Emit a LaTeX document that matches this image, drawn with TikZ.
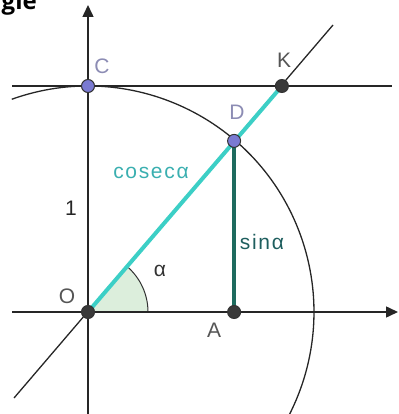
\documentclass[tikz,border=0pt]{standalone}
\usepackage{fontspec}
\setmainfont{Liberation Sans}[LetterSpace=8]
\newfontfamily\titlefont{Open Sans}
\usetikzlibrary{arrows.meta}
\definecolor{cosc}{HTML}{3CCFC6}
\definecolor{cosctext}{HTML}{3AAFB0}
\definecolor{sinc}{HTML}{1E6B5E}
\definecolor{sintext}{HTML}{1E5E5E}
\definecolor{ptblue}{HTML}{7A7AD2}
\definecolor{ptdark}{HTML}{3A3A3A}
\definecolor{lblblue}{HTML}{8C8CB4}
\definecolor{lblgray}{HTML}{555555}
\definecolor{wedge}{HTML}{DCEEDC}
\begin{document}
\begin{tikzpicture}[x=1pt,y=-1pt,
  axis/.style={line width=1.5pt,draw=black!85},
  thin line/.style={line width=1.3pt,draw=black!85},
  bluept/.style={circle,fill=ptblue,draw=black!80,line width=1pt,inner sep=0pt,minimum size=13pt},
  darkpt/.style={circle,fill=ptdark,draw=black!80,line width=1pt,inner sep=0pt,minimum size=13pt},
  lbl/.style={font=\fontsize{21}{21}\selectfont,inner sep=0pt}]
\useasboundingbox (0,0) rectangle (398,414);
% points
\coordinate (O) at (88,312);
\coordinate (D) at (234.1,140.9);
\coordinate (K) at (281.9,86);
\coordinate (A) at (234.1,312);
\coordinate (C) at (88,86);
\coordinate (LL) at (14,398);
\coordinate (LU) at (333,25);
\coordinate (XL) at (12,312);
\coordinate (XR) at (398,312);
\coordinate (YB) at (88,414);
\coordinate (YT) at (88,5);
\coordinate (HL) at (12,86);
\coordinate (HR) at (392,86);
% wedge
\fill[wedge] (O) -- ++(60,0) arc[start angle=0,end angle=-49.5,radius=60] -- cycle;
\draw[line width=1pt,black!80] ([xshift=60pt]O) arc[start angle=0,end angle=-49.5,radius=60];
% circle arc
\draw[thin line] (O) ++(-109.7:226) arc[start angle=-109.7,end angle=27.3,radius=226];
% lines
\draw[thin line] (HL) -- (HR);
\draw[thin line] (LL) -- (LU);
\draw[axis,-{Triangle[length=12pt,width=11pt]}] (XL) -- (XR);
\draw[axis,-{Triangle[length=12pt,width=11pt]}] (YB) -- (YT);
% colored segments
\draw[cosc,line width=4pt] (O) -- (K);
\draw[sinc,line width=4pt] (D) -- (A);
% points
\node[bluept] (nC) at (C) {};
\node[bluept] (nD) at (D) {};
\node[darkpt] (nK) at (K) {};
\node[darkpt] (nO) at (O) {};
\node[darkpt] (nA) at (A) {};
% labels
\node[lbl,text=lblblue] (tC) at (102,66) {C};
\node[lbl,text=lblgray] (tK) at (284,60) {K};
\node[lbl,text=lblblue] (tD) at (237,112) {D};
\node[lbl,text=lblgray] (tO) at (67,296) {O};
\node[lbl,text=lblgray] (tA) at (214,330) {A};
\node[lbl,text=black!80] (tal) at (160,271) {α};
\node[lbl,text=black!85] (t1) at (71,208) {1};
\node[lbl,text=cosctext] (tcos) at (151,173) {cosecα};
\node[lbl,text=sintext] (tsin) at (262,242) {sinα};
\node[anchor=base east,inner sep=0pt,font=\titlefont\bfseries\fontsize{24}{24}\selectfont] (title) at (37,9.5) {gle};
\end{tikzpicture}
\end{document}
